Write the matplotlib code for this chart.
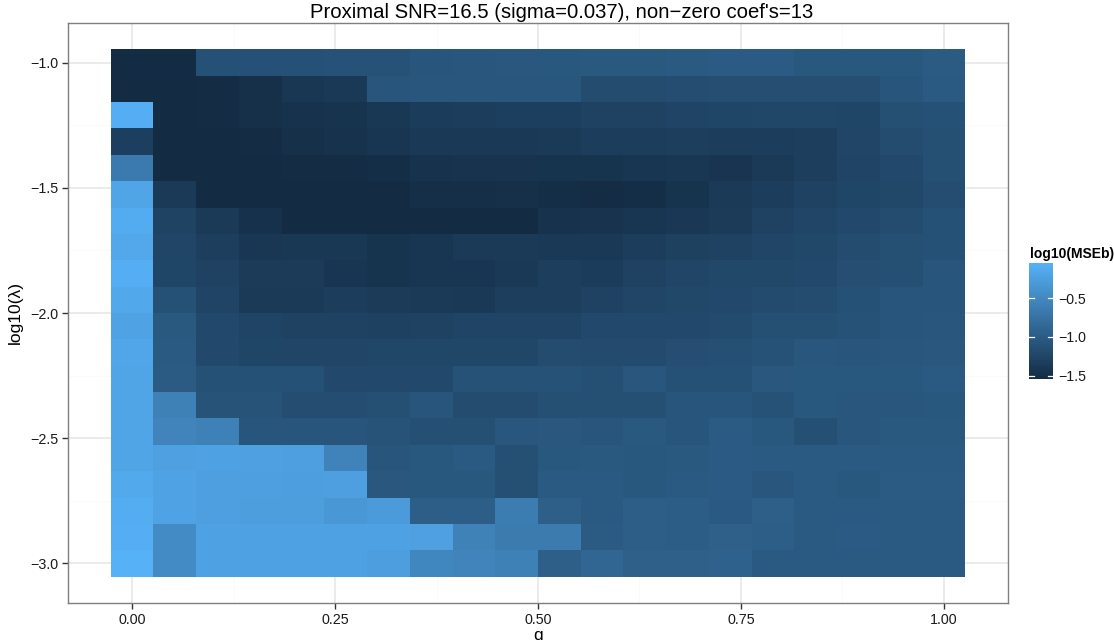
import numpy as np
import matplotlib
matplotlib.use("Agg")
import matplotlib.pyplot as plt
from matplotlib.colors import LinearSegmentedColormap, Normalize

plt.rcParams['font.family'] = ['Liberation Sans', 'DejaVu Sans']
plt.rcParams['axes.unicode_minus'] = True

# --- data: q on x, log10(lambda) on y, log10(MSEb) per tile ---
q = [0.0, 0.0526, 0.1053, 0.1579, 0.2105, 0.2632, 0.3158, 0.3684, 0.4211, 0.4737,
     0.5263, 0.5789, 0.6316, 0.6842, 0.7368, 0.7895, 0.8421, 0.8947, 0.9474, 1.0]
log_lambda = [-1.0, -1.1053, -1.2105, -1.3158, -1.4211, -1.5263, -1.6316, -1.7368,
              -1.8421, -1.9474, -2.0526, -2.1579, -2.2632, -2.3684, -2.4737, -2.5789,
              -2.6842, -2.7895, -2.8947, -3.0]

# one row per log_lambda value (top -1.0 first), one column per q value
mse = [
    [-1.53, -1.54, -1.11, -1.11, -1.11, -1.10, -1.10, -1.07, -1.06, -1.05, -1.04, -1.03, -1.03, -1.02, -1.00, -1.00, -1.04, -1.04, -1.04, -1.01],
    [-1.53, -1.53, -1.52, -1.48, -1.41, -1.38, -1.08, -1.06, -1.06, -1.06, -1.06, -1.17, -1.17, -1.16, -1.15, -1.15, -1.15, -1.15, -1.07, -1.02],
    [-0.08, -1.53, -1.52, -1.48, -1.46, -1.44, -1.40, -1.35, -1.34, -1.31, -1.31, -1.28, -1.28, -1.26, -1.24, -1.23, -1.23, -1.24, -1.14, -1.11],
    [-1.31, -1.53, -1.54, -1.52, -1.48, -1.46, -1.42, -1.38, -1.38, -1.38, -1.37, -1.34, -1.34, -1.32, -1.33, -1.33, -1.32, -1.25, -1.17, -1.13],
    [-0.66, -1.53, -1.53, -1.53, -1.52, -1.52, -1.50, -1.46, -1.45, -1.45, -1.44, -1.44, -1.42, -1.41, -1.43, -1.37, -1.32, -1.26, -1.20, -1.14],
    [-0.18, -1.37, -1.53, -1.53, -1.54, -1.54, -1.53, -1.49, -1.49, -1.48, -1.51, -1.52, -1.51, -1.44, -1.37, -1.33, -1.28, -1.24, -1.22, -1.16],
    [-0.11, -1.27, -1.37, -1.47, -1.54, -1.54, -1.54, -1.53, -1.53, -1.53, -1.46, -1.45, -1.42, -1.39, -1.36, -1.28, -1.25, -1.21, -1.17, -1.12],
    [-0.15, -1.25, -1.32, -1.41, -1.40, -1.40, -1.44, -1.42, -1.37, -1.37, -1.38, -1.38, -1.34, -1.30, -1.28, -1.25, -1.22, -1.17, -1.13, -1.11],
    [-0.08, -1.24, -1.28, -1.36, -1.36, -1.42, -1.44, -1.42, -1.42, -1.38, -1.32, -1.35, -1.28, -1.25, -1.22, -1.22, -1.20, -1.15, -1.13, -1.08],
    [-0.16, -1.12, -1.26, -1.37, -1.37, -1.34, -1.36, -1.37, -1.38, -1.32, -1.32, -1.28, -1.25, -1.22, -1.21, -1.18, -1.17, -1.12, -1.08, -1.08],
    [-0.21, -1.03, -1.21, -1.26, -1.28, -1.28, -1.29, -1.28, -1.26, -1.26, -1.26, -1.20, -1.20, -1.20, -1.18, -1.13, -1.14, -1.10, -1.08, -1.06],
    [-0.17, -1.02, -1.21, -1.24, -1.25, -1.25, -1.23, -1.23, -1.23, -1.23, -1.17, -1.18, -1.18, -1.15, -1.13, -1.10, -1.06, -1.07, -1.06, -1.05],
    [-0.18, -1.01, -1.11, -1.11, -1.11, -1.20, -1.20, -1.21, -1.10, -1.10, -1.10, -1.14, -1.06, -1.11, -1.11, -1.05, -1.04, -1.04, -1.04, -1.02],
    [-0.18, -0.59, -1.09, -1.09, -1.16, -1.16, -1.13, -1.08, -1.17, -1.17, -1.14, -1.14, -1.14, -1.07, -1.08, -1.10, -1.04, -1.06, -1.06, -1.04],
    [-0.18, -0.55, -0.58, -1.07, -1.07, -1.07, -1.09, -1.14, -1.14, -1.06, -1.05, -1.07, -1.03, -1.08, -1.01, -1.04, -1.13, -1.06, -1.03, -1.03],
    [-0.18, -0.24, -0.23, -0.24, -0.25, -0.56, -1.07, -1.04, -1.02, -1.13, -1.04, -1.03, -1.04, -1.03, -1.00, -1.02, -1.02, -1.02, -1.02, -1.02],
    [-0.14, -0.21, -0.25, -0.25, -0.26, -0.25, -1.05, -1.04, -1.04, -1.13, -1.02, -1.02, -1.04, -1.02, -1.00, -1.06, -1.02, -1.04, -1.01, -1.01],
    [-0.10, -0.21, -0.25, -0.27, -0.27, -0.34, -0.29, -0.97, -0.97, -0.63, -0.96, -1.02, -0.97, -0.98, -1.02, -0.96, -1.02, -1.02, -1.02, -1.02],
    [-0.08, -0.47, -0.22, -0.22, -0.22, -0.22, -0.22, -0.24, -0.57, -0.65, -0.65, -1.01, -0.97, -0.98, -0.95, -0.97, -1.02, -1.00, -1.02, -1.02],
    [-0.05, -0.47, -0.22, -0.22, -0.22, -0.22, -0.26, -0.51, -0.55, -0.59, -0.96, -0.88, -0.95, -0.95, -0.93, -1.02, -1.02, -1.02, -1.02, -1.02],
]

title = "Proximal SNR=16.5 (sigma=0.037), non\u2212zero coef's=13"
x_breaks = [0.0, 0.25, 0.5, 0.75, 1.0]
y_breaks = [-3.0, -2.5, -2.0, -1.5, -1.0]
cbar_breaks = [-1.5, -1.0, -0.5]


def minus(s):
    return s.replace("-", "\u2212")


# --- tile edges from the centres ---
qa = np.array(q)
la = np.array(log_lambda)
z = np.array(mse)
x_edges = np.concatenate([[qa[0] - (qa[1] - qa[0]) / 2], (qa[:-1] + qa[1:]) / 2,
                          [qa[-1] + (qa[-1] - qa[-2]) / 2]])
y_edges = np.concatenate([[la[0] - (la[1] - la[0]) / 2], (la[:-1] + la[1:]) / 2,
                          [la[-1] + (la[-1] - la[-2]) / 2]])

cmap = LinearSegmentedColormap.from_list("gg", ["#132B43", "#56B1F7"])
norm = Normalize(vmin=z.min(), vmax=z.max())

W, H = 1114, 640
fig = plt.figure(figsize=(W / 100, H / 100), dpi=100)
ax = fig.add_axes([68 / W, 1 - 603 / H, 940 / W, 580 / H])

mesh = ax.pcolormesh(x_edges, y_edges, z, cmap=cmap, norm=norm, shading="flat", zorder=2)

# ggplot-style expansion (5% of data range)
xr = x_edges.max() - x_edges.min()
yr = y_edges.max() - y_edges.min()
ax.set_xlim(x_edges.min() - 0.05 * xr, x_edges.max() + 0.05 * xr)
ax.set_ylim(y_edges.min() - 0.05 * yr, y_edges.max() + 0.05 * yr)

# grid (theme_bw)
ax.set_xticks(x_breaks)
ax.set_yticks(y_breaks)
ax.set_xticks([0.125, 0.375, 0.625, 0.875], minor=True)
ax.set_yticks([-2.75, -2.25, -1.75, -1.25], minor=True)
ax.grid(True, which="major", color="#E5E5E5", linewidth=1.1, zorder=0)
ax.grid(True, which="minor", color="#FAFAFA", linewidth=0.7, zorder=0)
ax.set_axisbelow(True)
ax.set_xticklabels(["%.2f" % v for v in x_breaks])
ax.set_yticklabels([minus("%.1f" % v) for v in y_breaks])
ax.tick_params(which="major", length=4, width=1, color="#333333", labelsize=10.3,
               labelcolor="#1a1a1a", pad=3)
ax.tick_params(which="minor", length=0)
for s in ax.spines.values():
    s.set_color("#7F7F7F")
    s.set_linewidth(1.0)

ax.set_xlabel("q", fontsize=12.5, labelpad=1)
ax.set_ylabel("log10(\u03bb)", fontsize=12.5, labelpad=5)

fig.text(562 / W, 1 - 12 / H, title, ha="center", va="center", fontsize=14.6)

# --- colourbar legend ---
cax = fig.add_axes([1029 / W, 1 - 379 / H, 24 / W, 116 / H])
cb = fig.colorbar(mesh, cax=cax)
cb.outline.set_visible(False)
cb.set_ticks(cbar_breaks)
cb.set_ticklabels([minus("%.1f" % v) for v in cbar_breaks])
cax.tick_params(length=0, labelsize=10.2, labelcolor="#1a1a1a", pad=4)
for v in cbar_breaks:
    cax.plot([0, 0.2], [v, v], color="white", linewidth=0.9)
    cax.plot([0.8, 1.0], [v, v], color="white", linewidth=0.9)
cax.set_xlim(0, 1)
fig.text(1030 / W, 1 - 254 / H, "log10(MSEb)", ha="left", va="center",
         fontsize=10, fontweight="bold")

fig.savefig("out.png", dpi=100)
